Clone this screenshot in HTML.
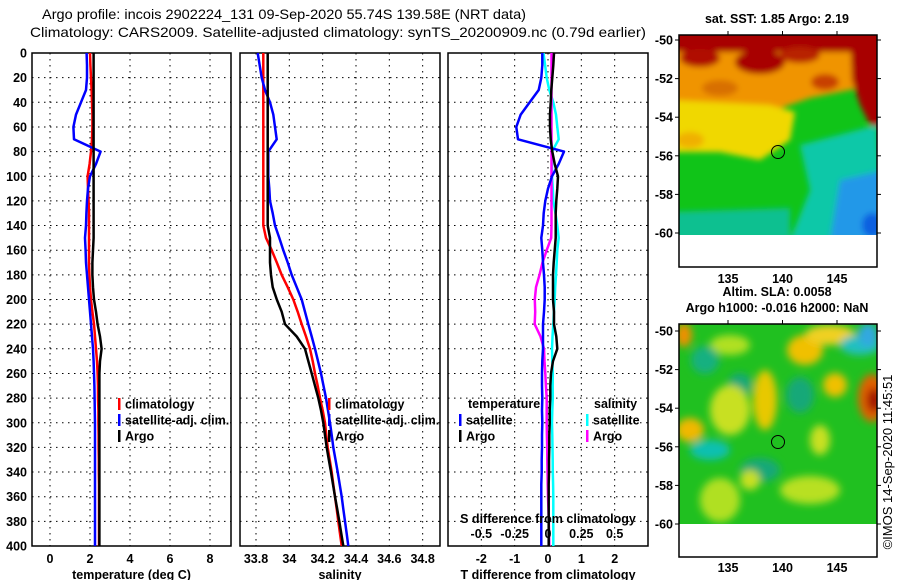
<!DOCTYPE html>
<html><head><meta charset="utf-8"><style>
html,body{margin:0;padding:0;background:#fff;width:900px;height:580px;overflow:hidden}
svg{display:block;font-family:"Liberation Sans",Arial,sans-serif}
.tk{font-size:12.5px;font-weight:bold}
</style></head><body>
<svg id="fig" width="900" height="580" viewBox="0 0 900 580">
<defs>
<filter id="bl" x="-20%" y="-20%" width="140%" height="140%"><feGaussianBlur stdDeviation="3"/></filter>
<filter id="bl2" x="-20%" y="-20%" width="140%" height="140%"><feGaussianBlur stdDeviation="4"/></filter>
<clipPath id="c1"><rect x="679" y="35" width="198" height="200"/></clipPath>
<clipPath id="c2"><rect x="679" y="324" width="198" height="200"/></clipPath>
</defs>
<text x="42" y="19" font-size="14" textLength="484" lengthAdjust="spacingAndGlyphs">Argo profile: incois 2902224_131 09-Sep-2020 55.74S 139.58E (NRT data)</text>
<text x="30" y="37" font-size="14" textLength="616" lengthAdjust="spacingAndGlyphs">Climatology: CARS2009. Satellite-adjusted climatology: synTS_20200909.nc (0.79d earlier)</text>

<!-- SST map -->
<g>
<text x="777" y="23" text-anchor="middle" class="tk">sat. SST: 1.85 Argo: 2.19</text>
<g clip-path="url(#c1)">
<rect x="679" y="35" width="198" height="200" fill="#10c418"/>
<g filter="url(#bl)">
<polygon points="670,50 880,50 860,88 810,98 770,112 670,108" fill="#f09400"/>
<polygon points="670,100 770,105 795,112 790,140 760,160 720,152 670,152" fill="#f0d800"/>
<ellipse cx="690" cy="140" rx="14" ry="8" fill="#f0b000"/>
<ellipse cx="720" cy="88" rx="18" ry="8" fill="#d87000"/>
<ellipse cx="825" cy="82" rx="14" ry="8" fill="#c84000"/>
<rect x="670" y="28" width="215" height="24" fill="#a80000"/>
<ellipse cx="700" cy="58" rx="20" ry="9" fill="#b01000"/>
<ellipse cx="760" cy="62" rx="25" ry="12" fill="#a80000"/>
<ellipse cx="800" cy="55" rx="20" ry="8" fill="#b82000"/>
<polygon points="850,30 885,30 885,128 870,125 860,105 852,80" fill="#a80000"/>
<polygon points="800,145 877,125 885,240 790,240 810,190" fill="#10c8a8"/>
<polygon points="840,180 885,170 885,240 830,240" fill="#2098e8"/>
<polygon points="670,212 790,208 790,240 670,240" fill="#10c090"/>
<ellipse cx="872" cy="225" rx="10" ry="12" fill="#1060e0"/>
</g>
</g>
<rect x="679" y="35" width="198" height="232" fill="none" stroke="#000" stroke-width="1.5"/>
<circle cx="778" cy="152" r="6.5" fill="none" stroke="#000"/>
</g>

<!-- SLA map -->
<g>
<text x="777" y="296" text-anchor="middle" class="tk">Altim. SLA: 0.0058</text>
<text x="777" y="312" text-anchor="middle" class="tk">Argo h1000: -0.016 h2000: NaN</text>
<g clip-path="url(#c2)">
<rect x="679" y="324" width="198" height="200" fill="#20c020"/>
<g filter="url(#bl2)">
<ellipse cx="740" cy="385" rx="12" ry="12" fill="#18a878"/>
<ellipse cx="800" cy="395" rx="14" ry="18" fill="#18a878"/>
<ellipse cx="760" cy="470" rx="20" ry="12" fill="#18a878"/>
<ellipse cx="684" cy="335" rx="8" ry="12" fill="#f09000"/>
<ellipse cx="730" cy="345" rx="20" ry="10" fill="#b0e020"/>
<ellipse cx="805" cy="350" rx="18" ry="15" fill="#f0c000"/>
<ellipse cx="830" cy="335" rx="25" ry="10" fill="#f0d020"/>
<ellipse cx="835" cy="385" rx="12" ry="12" fill="#f0c000"/>
<ellipse cx="860" cy="345" rx="20" ry="10" fill="#20c0c0"/>
<ellipse cx="868" cy="335" rx="10" ry="12" fill="#30a8e0"/>
<ellipse cx="872" cy="398" rx="14" ry="24" fill="#e06000"/>
<ellipse cx="874" cy="400" rx="7" ry="12" fill="#a01000"/>
<ellipse cx="765" cy="400" rx="12" ry="30" fill="#e8c800"/>
<ellipse cx="730" cy="410" rx="20" ry="25" fill="#c8e020"/>
<ellipse cx="690" cy="430" rx="14" ry="12" fill="#f0b800"/>
<ellipse cx="705" cy="360" rx="14" ry="14" fill="#18b080"/>
<ellipse cx="710" cy="450" rx="20" ry="10" fill="#10c0b0"/>
<ellipse cx="820" cy="440" rx="10" ry="15" fill="#c8e020"/>
<ellipse cx="810" cy="490" rx="30" ry="14" fill="#b8e020"/>
<ellipse cx="720" cy="500" rx="20" ry="22" fill="#b0e020"/>
<ellipse cx="750" cy="480" rx="10" ry="10" fill="#c8e020"/>
</g>
</g>
<rect x="679" y="324" width="198" height="233" fill="none" stroke="#000" stroke-width="1.5"/>
<circle cx="778" cy="442" r="6.5" fill="none" stroke="#000"/>
</g>
<text transform="translate(892,462) rotate(-90)" text-anchor="middle" font-size="13">©IMOS 14-Sep-2020 11:45:51</text>
<g id="plots"></g>
</svg>
<script>
const depths=[0,10,20,30,40,50,60,70,80,90,100,110,120,130,140,150,160,170,180,190,200,210,220,230,240,250,260,270,280,290,300,310,320,330,340,350,360,370,380,390,400];
const tClim=[2.0,2.02,2.05,2.08,2.1,2.12,2.12,2.1,2.05,1.98,1.88,1.9,1.93,1.95,1.95,1.95,1.95,1.95,1.97,2.0,2.05,2.12,2.2,2.25,2.3,2.35,2.38,2.4,2.4,2.42,2.42,2.43,2.43,2.44,2.44,2.45,2.45,2.45,2.45,2.45,2.45];
const tSat=[1.83,1.85,1.85,1.8,1.55,1.3,1.17,1.2,2.53,2.3,2.0,1.9,1.85,1.82,1.8,1.75,1.78,1.8,1.85,1.9,1.95,2.0,2.05,2.1,2.15,2.18,2.2,2.22,2.23,2.24,2.25,2.25,2.25,2.25,2.25,2.25,2.25,2.25,2.25,2.25,2.25];
const tArgo=[2.18,2.18,2.18,2.18,2.18,2.18,2.18,2.18,2.18,2.18,2.18,2.18,2.18,2.18,2.18,2.18,2.15,2.12,2.12,2.15,2.2,2.3,2.38,2.5,2.58,2.5,2.47,2.47,2.47,2.47,2.47,2.47,2.47,2.47,2.47,2.47,2.47,2.47,2.47,2.47,2.47];
const sClim=[33.844,33.844,33.844,33.844,33.844,33.844,33.844,33.844,33.844,33.844,33.844,33.844,33.844,33.844,33.844,33.86,33.894,33.925,33.954,33.99,34.024,34.05,34.074,34.1,34.124,34.14,34.154,34.17,34.184,34.2,34.214,34.222,34.23,34.242,34.254,34.264,34.274,34.284,34.294,34.304,34.314];
const sSat=[33.81,33.822,33.834,33.854,33.884,33.904,33.914,33.924,33.874,33.874,33.874,33.88,33.884,33.9,33.914,33.94,33.964,33.99,34.014,34.044,34.074,34.094,34.114,34.134,34.154,34.172,34.19,34.205,34.22,34.232,34.244,34.254,34.264,34.277,34.29,34.302,34.314,34.324,34.334,34.344,34.354];
const sArgo=[33.87,33.87,33.87,33.87,33.87,33.87,33.87,33.87,33.87,33.87,33.87,33.87,33.87,33.87,33.87,33.884,33.884,33.884,33.89,33.9,33.925,33.954,33.974,34.044,34.094,34.114,34.134,34.154,34.174,34.19,34.204,34.214,34.224,34.237,34.25,34.262,34.274,34.287,34.3,34.312,34.324];
const depthTicks=[0,20,40,60,80,100,120,140,160,180,200,220,240,260,280,300,320,340,360,380,400];
const tTicks=[0,2,4,6,8];
const sTicks=[33.8,34,34.2,34.4,34.6,34.8];
const dTTicks=[-2,-1,0,1,2];
const dSTicks=[-0.5,-0.25,0,0.25,0.5];
const latTicks=[-50,-52,-54,-56,-58,-60];
const lonTicks=[135,140,145];

const NS='http://www.w3.org/2000/svg';
const root=document.getElementById('plots');
function mk(tag,attrs,parent){const e=document.createElementNS(NS,tag);for(const k in attrs)e.setAttribute(k,attrs[k]);(parent||root).appendChild(e);return e;}
const Y0=53,Y1=546;
const yD=d=>Y0+(d/400)*(Y1-Y0);
const panels=[
 {name:'temperature-panel',x0:32,x1:231,min:-0.9,max:9.05,ticks:tTicks,title:'temperature (deg C)'},
 {name:'salinity-panel',x0:240,x1:440,min:33.704,max:34.904,ticks:sTicks,title:'salinity'},
 {name:'difference-panel',x0:448,x1:648,min:-3,max:3,ticks:dTTicks,title:'T difference from climatology'}
];
function xs(p,v){return p.x0+(v-p.min)/(p.max-p.min)*(p.x1-p.x0);}
panels.forEach((p,i)=>{
 const g=mk('g',{});
 
 
 depthTicks.forEach(d=>{
  const l=mk('line',{x1:p.x0,x2:p.x1,y1:yD(d),y2:yD(d),stroke:'#000','stroke-width':1,'stroke-dasharray':'1.5 4.5'},g);
  
  
  if(i===0){
   const t=mk('text',{x:27,y:yD(d)+4.5,'text-anchor':'end',class:'tk'},g);
   
   
   t.textContent=d;
  }
 });
 p.ticks.forEach(v=>{
  const x=xs(p,v);
  const l=mk('line',{x1:x,x2:x,y1:Y0,y2:Y1,stroke:'#000','stroke-width':1,'stroke-dasharray':'1.5 4.5'},g);
  
  
  const t=mk('text',{x:x,y:563,'text-anchor':'middle',class:'tk'},g);
  
  
  t.textContent=v;
 });
 const r=mk('rect',{x:p.x0,y:Y0,width:p.x1-p.x0,height:Y1-Y0,fill:'none',stroke:'#000','stroke-width':1.5},g);
 
 
 const tt=mk('text',{x:(p.x0+p.x1)/2,y:579,'text-anchor':'middle',class:'tk'},g);
 
 
 tt.textContent=p.title;
 p.g=g;
});
function line(p,vals,color,name){
 const pts=vals.map((v,k)=>xs(p,v).toFixed(1)+','+yD(depths[k]).toFixed(1)).join(' ');
 const l=mk('polyline',{points:pts,fill:'none',stroke:color,'stroke-width':2.5,'stroke-linejoin':'round'},p.g);
 
 
}
const P=panels;
line(P[0],tClim,'#ff0000','temp-climatology-line');
line(P[0],tSat,'#0000ff','temp-satellite-line');
line(P[0],tArgo,'#000000','temp-argo-line');
line(P[1],sClim,'#ff0000','sal-climatology-line');
line(P[1],sSat,'#0000ff','sal-satellite-line');
line(P[1],sArgo,'#000000','sal-argo-line');
line(P[2],sSat.map((v,k)=>(v-sClim[k])*4),'#00ffff','sal-diff-satellite-line');
line(P[2],sArgo.map((v,k)=>(v-sClim[k])*4),'#ff00ff','sal-diff-argo-line');
line(P[2],tSat.map((v,k)=>v-tClim[k]),'#0000ff','temp-diff-satellite-line');
line(P[2],tArgo.map((v,k)=>v-tClim[k]),'#000000','temp-diff-argo-line');
const sl=mk('text',{x:548,y:523,'text-anchor':'middle',class:'tk'},P[2].g);


sl.textContent='S difference from climatology';
dSTicks.forEach(v=>{
 const t=mk('text',{x:xs(P[2],v*4),y:538,'text-anchor':'middle',class:'tk'},P[2].g);
 
 
 t.textContent=v;
});
function legend(g,x,y,color,label){
 const l=mk('rect',{x:x,y:y-6,width:2.5,height:12,fill:color},g);
 
 
 const t=mk('text',{x:x+7,y:y+4.5,class:'tk'},g);
 
 
 t.textContent=label;
}
[[P[0],118],[P[1],328]].forEach(([p,x])=>{
 legend(p.g,x,404,'#ff0000','climatology');
 legend(p.g,x,420,'#0000ff','satellite-adj. clim.');
 legend(p.g,x,436,'#000000','Argo');
});
const h1=mk('text',{x:468,y:408,class:'tk'},P[2].g);h1.textContent='temperature';


const h2=mk('text',{x:594,y:408,class:'tk'},P[2].g);h2.textContent='salinity';


legend(P[2].g,459,420,'#0000ff','satellite');
legend(P[2].g,459,436,'#000000','Argo');
legend(P[2].g,586,420,'#00ffff','satellite');
legend(P[2].g,586,436,'#ff00ff','Argo');
[[40,233,35,283],[331,524,324,572]].forEach(([ya,yb,top,ly],m)=>{
 const g=mk('g',{});
 
 
 latTicks.forEach(la=>{
  const y=ya+(-50-la)/10*(yb-ya);
  mk('line',{x1:675,x2:679,y1:y,y2:y,stroke:'#000'},g);
  mk('line',{x1:877,x2:881,y1:y,y2:y,stroke:'#000'},g);
  const t=mk('text',{x:673,y:y+4.5,'text-anchor':'end',class:'tk'},g);
  
  
  t.textContent=la;
 });
 lonTicks.forEach(lo=>{
  const x=728+(lo-135)/5*54.5;
  mk('line',{x1:x,x2:x,y1:top-4,y2:top,stroke:'#000'},g);
  const t=mk('text',{x:x,y:ly,'text-anchor':'middle',class:'tk'},g);
  
  
  t.textContent=lo;
 });
});
</script>
</body></html>
